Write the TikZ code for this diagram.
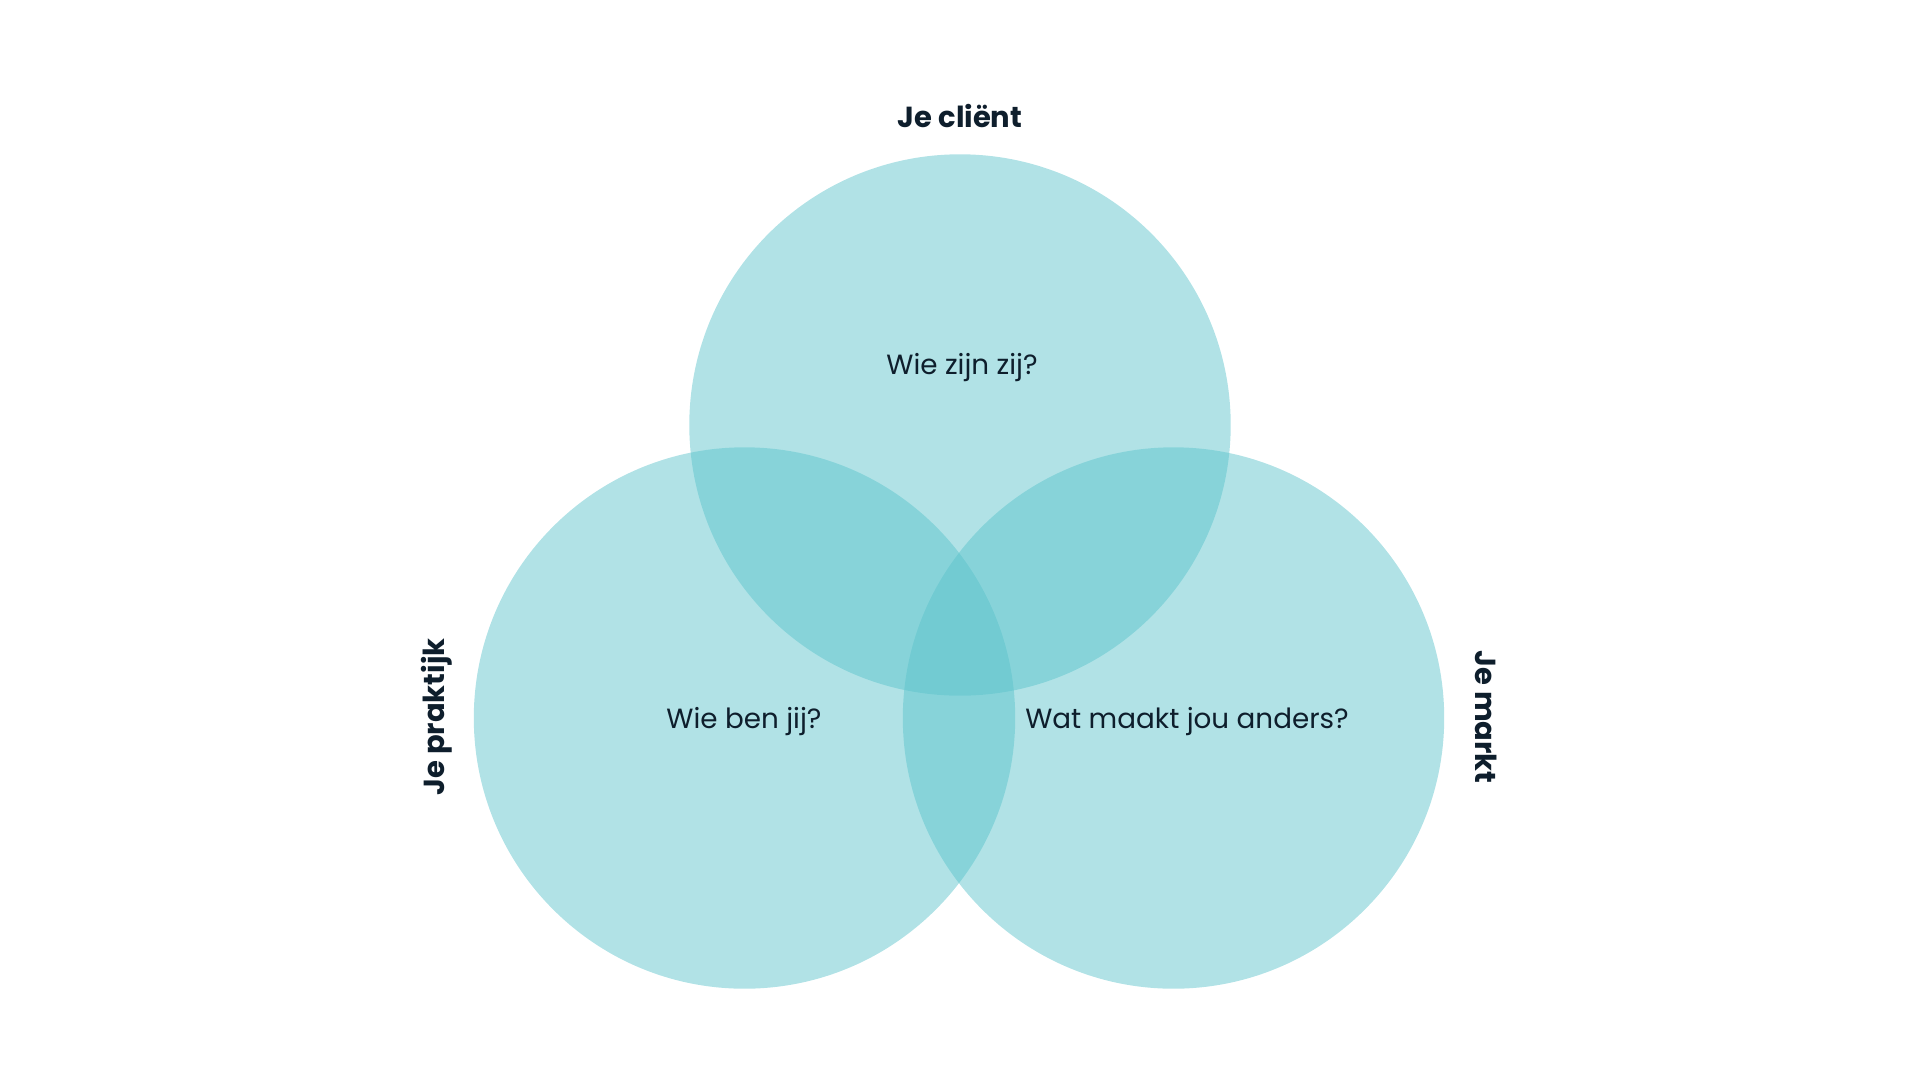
\documentclass[tikz,border=0pt]{standalone}
\usepackage{fontspec}
\setmainfont{Poppins}
\definecolor{venn}{RGB}{91,195,203}
\definecolor{ink}{RGB}{14,30,44}
\tikzset{
  circ/.style={circle, inner sep=0pt, minimum size=541.4pt, fill=venn, fill opacity=0.48, draw=none},
  qtext/.style={text=ink, inner sep=0pt, font=\fontsize{27.8}{34}\selectfont},
  ttl/.style={text=ink, inner sep=0pt, font=\fontsize{29}{35}\selectfont\bfseries}
}
\begin{document}
\begin{tikzpicture}[x=1pt,y=-1pt]
\useasboundingbox (0,0) rectangle (1920,1080);
\node[circ] (client) at (960,425) {};
\node[circ] (praktijk) at (744.5,718) {};
\node[circ] (markt) at (1173.5,718) {};
\node[qtext] (q1) at (962,368) {Wie zijn zij?};
\node[qtext] (q2) at (744,722) {Wie ben jij?};
\node[qtext] (q3) at (1187,722) {Wat maakt jou anders?};
\node[ttl] (t1) at (960,116) {Je cliënt};
\node[ttl, rotate=90] (t2) at (437,717) {Je praktijk};
\node[ttl, rotate=-90] (t3) at (1486,717) {Je markt};
\end{tikzpicture}
\end{document}
